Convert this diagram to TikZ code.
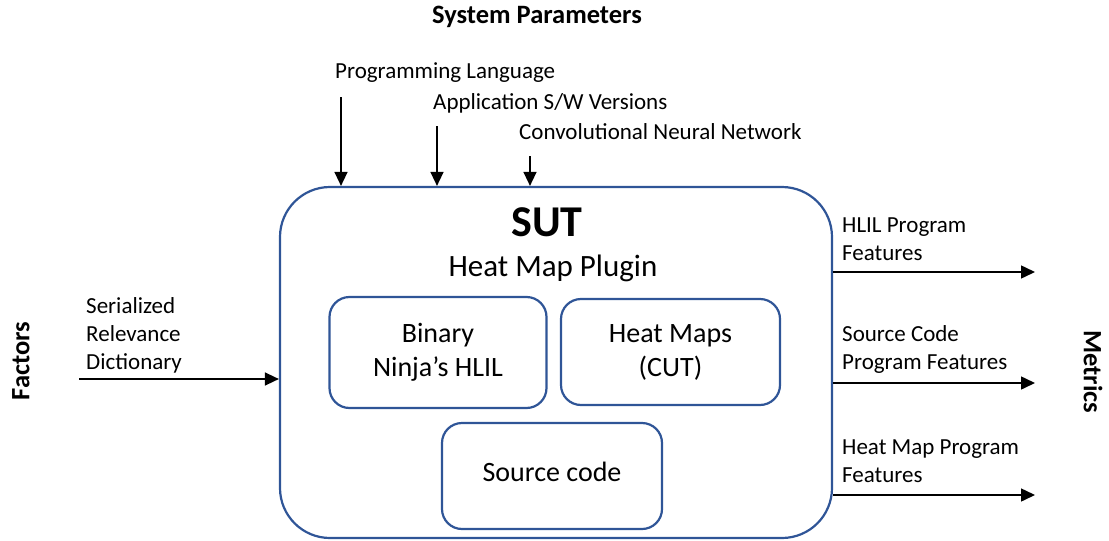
\documentclass[tikz,border=0pt]{standalone}
\usepackage{fontspec}
\setmainfont{Carlito}
\usetikzlibrary{arrows.meta}
\definecolor{boxblue}{RGB}{47,85,151}
\newcommand{\lblfont}{\fontsize{23}{28}\selectfont}
\newcommand{\boxfont}{\fontsize{28}{34}\selectfont}
\begin{document}
\begin{tikzpicture}[x=1pt,y=-1pt,
  arr/.style={line width=1.5pt,-{Triangle[length=14pt,width=13pt]}},
  outer/.style={draw=boxblue,line width=2.2pt,rounded corners=50pt,inner sep=0pt},
  inner/.style={draw=boxblue,line width=2.2pt,rounded corners=20pt,inner sep=0pt,
    align=center,font=\boxfont},
  lbl/.style={inner sep=0pt,anchor=west,align=left,font=\lblfont},
  title/.style={inner sep=0pt,font=\fontsize{26.5}{30}\selectfont\bfseries}]
\useasboundingbox (0,0) rectangle (1109,541);

% system under test
\node[outer,minimum width=552pt,minimum height=351pt] (sut) at (556,362.5) {};
\node[inner sep=0pt,font=\fontsize{44}{50}\selectfont\bfseries] (suttitle) at (547,222) {SUT};
\node[inner sep=0pt,font=\fontsize{31}{36}\selectfont] (plugin) at (553,268) {Heat Map Plugin};
\node[inner,minimum width=217pt,minimum height=111pt] (hlil) at (438,352.5) {Binary\\Ninja’s HLIL};
\node[inner,minimum width=219pt,minimum height=106pt] (maps) at (670.5,352) {Heat Maps\\(CUT)};
\node[inner,minimum width=220pt,minimum height=106pt] (src) at (552,476) {\raisebox{8pt}{Source code}};

% headings
\node[title] (sysparam) at (537,17) {System Parameters};
\node[title,rotate=90] (factors) at (21,361) {Factors};
\node[title,rotate=-90] (metrics) at (1093,372) {Metrics};

% system parameters
\node[lbl] (plang) at (335,73) {Programming Language};
\node[lbl] (appver) at (433,103) {Application S/W Versions};
\node[lbl] (cnn) at (519,132) {Convolutional Neural Network};
\coordinate (p1) at (341,97);
\coordinate (p2) at (437,126);
\coordinate (p3) at (530,156);
\draw[arr] (p1) -- (p1 |- sut.north);
\draw[arr] (p2) -- (p2 |- sut.north);
\draw[arr] (p3) -- (p3 |- sut.north);

% factors
\node[lbl] (srd) at (86,335) {Serialized\\Relevance\\Dictionary};
\coordinate (f1) at (79,379);
\draw[arr] (f1) -- (f1 -| sut.west);

% metrics
\node[lbl] (m1) at (842,239) {HLIL Program\\Features};
\node[lbl] (m2) at (842,349) {Source Code\\Program Features};
\node[lbl] (m3) at (842,461) {Heat Map Program\\Features};
\coordinate (e1) at (1035,272);
\coordinate (e2) at (1035,383);
\coordinate (e3) at (1035,495);
\draw[arr] (e1 -| sut.east) -- (e1);
\draw[arr] (e2 -| sut.east) -- (e2);
\draw[arr] (e3 -| sut.east) -- (e3);
\end{tikzpicture}
\end{document}
